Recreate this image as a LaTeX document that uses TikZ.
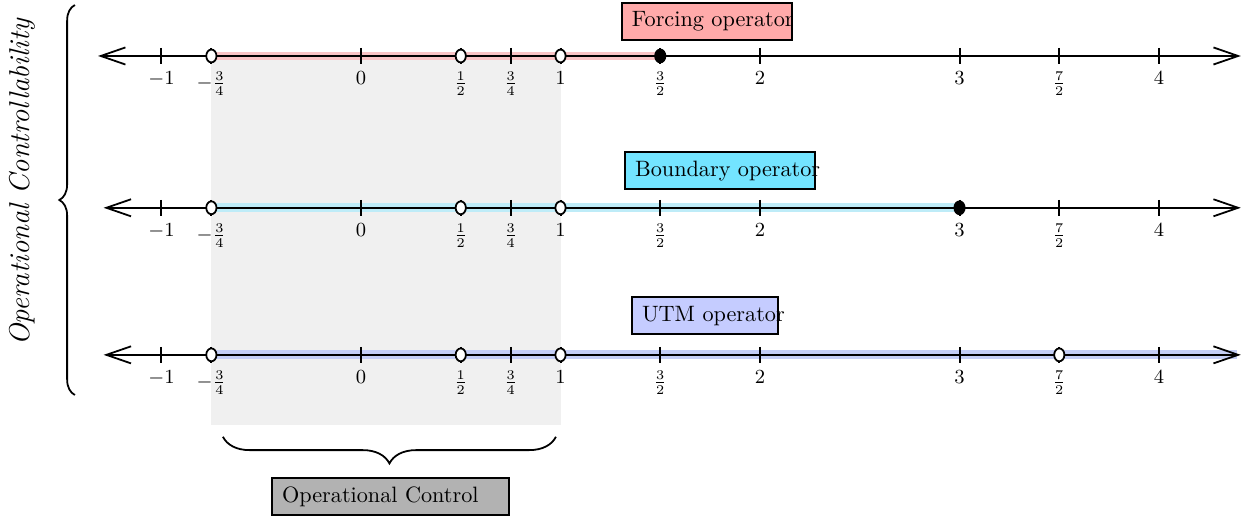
\documentclass[tikz,border=0pt]{standalone}
\usepackage{amsmath}
\usetikzlibrary{decorations.pathreplacing,arrows.meta,positioning,shapes}

\definecolor{forcefill}{RGB}{255,170,170}
\definecolor{boundfill}{RGB}{115,228,255}
\definecolor{utmfill}{RGB}{197,204,255}
\definecolor{forceband}{RGB}{249,196,198}
\definecolor{boundband}{RGB}{190,236,248}
\definecolor{utmband}{RGB}{196,206,246}

\tikzset{
  opbox/.style={draw,thick,inner xsep=4.5pt,minimum height=0.585cm},
  axisline/.style={thick,{Straight Barb[length=3.9mm,width=2.7mm]}-{Straight Barb[length=3.9mm,width=2.7mm]}},
  band/.style={line width=4pt},
  tickmark/.style={line width=0.9pt},
  opendot/.style={ellipse,draw,thick,fill=white,minimum width=4.6pt,minimum height=5.8pt,inner sep=0pt},
  fulldot/.style={opendot,fill=black},
  ticklab/.style={below,font=\small}
}

\begin{document}
\begin{tikzpicture}[x=3.154cm,y=1cm]
        \useasboundingbox (-1.8095,0.885) rectangle (4.466,-7.37);

        % control region
        \fill[gray!12] (-0.75,0) rectangle (1,-5.83);

        \foreach \nm/\y/\xl/\xe/\bc in {fo/0/-1.318/1.5/forceband,bo/-2.4/-1.29/3/boundband,ut/-4.725/-1.29/4.39/utmband}{
          \coordinate (\nm L) at (\xl,\y);
          \coordinate (\nm R) at (4.41,\y);
          \coordinate (\nm S) at (-0.75,\y);
          \coordinate (\nm E) at (\xe,\y);
          \draw[band,\bc] (\nm S)--(\nm E);
          \draw[axisline] (\nm L)--(\nm R);
          \foreach \x/\lab [count=\i] in {-1/$-1$,-0.75/$-\frac34$,0/$0$,0.5/$\frac12$,0.75/$\frac34$,1/$1$,1.5/$\frac32$,2/$2$,3/$3$,3.5/$\frac72$,4/$4$}{
            \draw[tickmark] (\x,\y+0.127)--(\x,\y-0.127);
            \node[ticklab] (\nm lab\i) at (\x,\y-0.127) {\lab};
          }
        }

        % end points
        \node[opendot] (fo1) at (-0.75,0) {};
        \node[opendot] (fo2) at (0.5,0) {};
        \node[opendot] (fo3) at (1,0) {};
        \node[fulldot] (fo4) at (1.5,0) {};

        \node[opendot] (bo1) at (-0.75,-2.4) {};
        \node[opendot] (bo2) at (0.5,-2.4) {};
        \node[opendot] (bo3) at (1,-2.4) {};
        \node[fulldot] (bo4) at (3,-2.4) {};

        \node[opendot] (ut1) at (-0.75,-4.725) {};
        \node[opendot] (ut2) at (0.5,-4.725) {};
        \node[opendot] (ut3) at (1,-4.725) {};
        \node[opendot] (ut4) at (3.5,-4.725) {};

        % operators
        \node[opbox,fill=forcefill] (forcebox) at (1.734,0.545) {\makebox[2.37cm][l]{Forcing operator}};
        \node[opbox,fill=boundfill] (boundbox) at (1.80,-1.815) {\makebox[2.69cm][l]{Boundary operator}};
        \node[opbox,fill=utmfill] (utmbox) at (1.724,-4.108) {\makebox[1.99cm][l]{UTM operator}};

        % braces
        \coordinate (ctrlR) at (0.977,-6.02);
        \coordinate (ctrlL) at (-0.692,-6.02);
        \draw[thick,decorate,decoration={brace,amplitude=12pt}] (ctrlR)--(ctrlL);
        \node[opbox,fill=gray!60] (ctrlbox) at (0.148,-6.97) {\makebox[3.43cm][l]{Operational Control}};

        \coordinate (allB) at (-1.434,-5.36);
        \coordinate (allT) at (-1.434,0.806);
        \draw[thick,decorate,decoration={brace,amplitude=7pt}] (allB)--(allT);
        \node[rotate=90,font=\fontsize{12.9}{15}\selectfont\itshape] (alltext) at (-1.699,-2.0) {Operational Controllability};
      \end{tikzpicture}
\end{document}
